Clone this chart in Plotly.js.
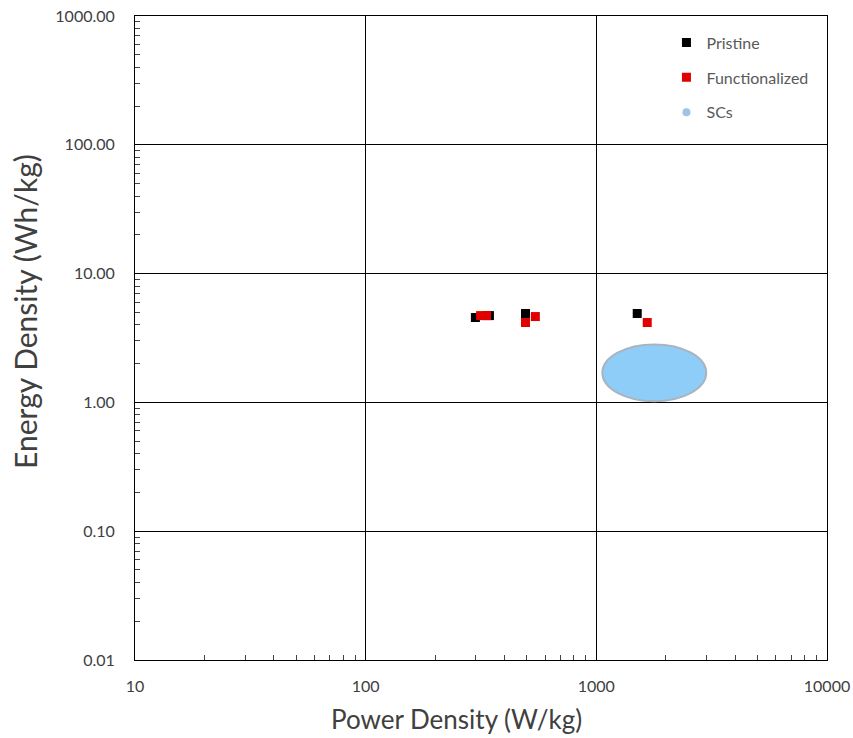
<!DOCTYPE html>
<html>
<head>
<meta charset="utf-8">
<script src="https://cdn.plot.ly/plotly-3.0.1.min.js"></script>
<style>
  html, body { margin: 0; padding: 0; background: #fff; }
  #chart { width: 853px; height: 738px; }
</style>
</head>
<body>
<div id="chart"></div>
<script>
// Ragone plot: energy density vs power density
const pristinePower = [299, 344, 493, 1504];
const pristineEnergy = [4.56, 4.72, 4.90, 4.90];

const functionalizedPower = [315, 334, 544, 493, 1662];
const functionalizedEnergy = [4.72, 4.72, 4.64, 4.17, 4.17];

// Supercapacitor region: centre and extent (power, energy)
const scCenterPower = [1783];
const scCenterEnergy = [1.68];
const scPowerRange = [1062, 2994];
const scEnergyRange = [1.02, 2.82];

const xTitle = 'Power Density (W/kg)';
const yTitle = 'Energy Density (Wh/kg)';

const traces = [
  {
    name: 'Pristine',
    x: pristinePower, y: pristineEnergy,
    type: 'scatter', mode: 'markers',
    marker: { symbol: 'square', size: 9, color: '#000000' },
    legendgroup: 'a'
  },
  {
    name: 'Functionalized',
    x: functionalizedPower, y: functionalizedEnergy,
    type: 'scatter', mode: 'markers',
    marker: { symbol: 'square', size: 9, color: '#E00000' },
    legendgroup: 'b'
  },
  {
    name: 'SCs',
    x: scCenterPower, y: scCenterEnergy,
    type: 'scatter', mode: 'markers',
    marker: { symbol: 'circle', size: 8, color: '#9DC3E6' },
    legendgroup: 'c'
  }
];

const family = 'Lato, "Open Sans", sans-serif';
const tickFont = { family: family, size: 16, color: '#404040' };

const layout = {
  width: 853, height: 738,
  margin: { l: 135, r: 26, t: 16, b: 78 },
  paper_bgcolor: '#ffffff', plot_bgcolor: '#ffffff',
  showlegend: true,
  legend: {
    x: 0.768, y: 0.985, xanchor: 'left', yanchor: 'top',
    font: { family: family, size: 16, color: '#595959' },
    bgcolor: 'rgba(0,0,0,0)',
    traceorder: 'grouped', tracegroupgap: 11,
    itemwidth: 30
  },
  xaxis: {
    type: 'log', range: [1, 4],
    dtick: 1, tickformat: 'd',
    showline: true, linecolor: '#000', linewidth: 1, mirror: true,
    showgrid: true, gridcolor: '#000', gridwidth: 1,
    ticks: '', tickfont: tickFont, ticklabelstandoff: 12,
    minor: { dtick: 'D1', ticks: 'inside', ticklen: 5, tickcolor: '#444', showgrid: false },
    zeroline: false
  },
  yaxis: {
    type: 'log', range: [-2, 3],
    dtick: 1, tickformat: '.2f',
    showline: true, linecolor: '#000', linewidth: 1, mirror: true,
    showgrid: true, gridcolor: '#000', gridwidth: 1,
    ticks: '', tickfont: tickFont, ticklabelstandoff: 16,
    minor: { dtick: 'D1', ticks: 'inside', ticklen: 5, tickcolor: '#444', showgrid: false },
    zeroline: false
  },
  annotations: [
    {
      text: xTitle, xref: 'paper', yref: 'paper',
      x: 0.464, y: -0.092, xanchor: 'center', yanchor: 'middle',
      showarrow: false, font: { family: family, size: 26, color: '#404040' }
    },
    {
      text: yTitle, xref: 'paper', yref: 'paper', textangle: -90,
      x: -0.159, y: 0.542, xanchor: 'center', yanchor: 'middle',
      showarrow: false, font: { family: family, size: 30, color: '#404040' }
    }
  ],
  shapes: [
    {
      type: 'circle', xref: 'x', yref: 'y', layer: 'above',
      x0: scPowerRange[0], x1: scPowerRange[1],
      y0: scEnergyRange[0], y1: scEnergyRange[1],
      fillcolor: '#8ECDF8', line: { color: '#A9B4BE', width: 2 }
    }
  ]
};

Plotly.newPlot('chart', traces, layout, { displayModeBar: false, staticPlot: true });
</script>
</body>
</html>
